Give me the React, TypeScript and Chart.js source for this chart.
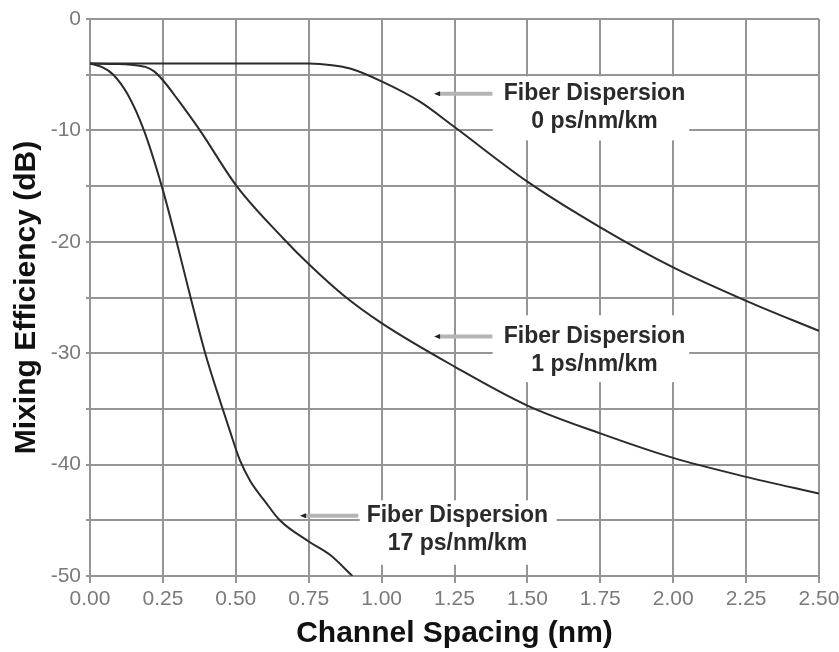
import React, { useEffect, useRef } from "react";
import { Chart, registerables } from "chart.js";

Chart.register(...registerables);

// Data
const xTicks = [0, 0.25, 0.5, 0.75, 1.0, 1.25, 1.5, 1.75, 2.0, 2.25, 2.5];
const yLabelTicks = [0, -10, -20, -30, -40, -50];

const x0ps = [0, 0.25, 0.5, 0.75, 0.83, 0.892, 1.0, 1.13, 1.25, 1.5, 1.75, 2.0, 2.25, 2.5];
const y0ps = [-4, -4, -4, -4.0, -4.15, -4.45, -5.6, -7.4, -9.7, -14.6, -18.7, -22.3, -25.3, -28.0];

const x1ps = [0, 0.1, 0.17, 0.19, 0.22, 0.25, 0.3, 0.377, 0.503, 0.663, 0.75, 0.869, 1.0, 1.25, 1.5, 1.75, 2.0, 2.25, 2.5];
const y1ps = [-4, -4.05, -4.2, -4.3, -4.7, -5.5, -7.2, -10.0, -15.0, -19.7, -22.0, -24.8, -27.3, -31.2, -34.7, -37.2, -39.4, -41.1, -42.6];

const x17ps = [0, 0.04, 0.08, 0.13, 0.185, 0.246, 0.297, 0.345, 0.395, 0.45, 0.48, 0.514, 0.55, 0.6, 0.651, 0.75, 0.823, 0.9];
const y17ps = [-4, -4.3, -5.0, -6.8, -10.0, -15.0, -20.0, -25.0, -30.0, -34.6, -37.0, -39.6, -41.5, -43.3, -45.0, -46.9, -48.1, -50.0];

const labelLine1 = ["Fiber Dispersion", "Fiber Dispersion", "Fiber Dispersion"];
const labelLine2 = ["0 ps/nm/km", "1 ps/nm/km", "17 ps/nm/km"];
// annotation anchor (data coords): text center x, line-1 y
const labelX = [1.73, 1.73, 1.26];
const labelY = [-6.7, -28.5, -44.6];
// arrow tip / tail (data coords)
const arrowTipX = [1.18, 1.18, 0.72];
const arrowTailX = [1.38, 1.38, 0.92];
// white box behind label (data coords)
const boxX1 = [1.381, 1.381, 0.925];
const boxX2 = [2.055, 2.055, 1.6];
const boxYTop = [-5.15, -26.6, -43.2];
const boxYBot = [-10.9, -32.6, -49.0];

const toPts = (xs: number[], ys: number[]) => xs.map((x, i) => ({ x, y: ys[i] }));

const annotationPlugin = {
  id: "annotations",
  beforeDatasetsDraw(chart: any) {
    const { ctx, scales } = chart;
    const xs = scales.x, ys = scales.y;
    ctx.save();
    ctx.fillStyle = "#ffffff";
    for (let i = 0; i < labelLine1.length; i++) {
      const l = xs.getPixelForValue(boxX1[i]);
      const r = xs.getPixelForValue(boxX2[i]);
      const t = ys.getPixelForValue(boxYTop[i]);
      const b = ys.getPixelForValue(boxYBot[i]);
      ctx.fillRect(l, t, r - l, b - t);
    }
    ctx.restore();
  },
  afterDatasetsDraw(chart: any) {
    const { ctx, scales } = chart;
    const xs = scales.x, ys = scales.y;
    ctx.save();
    for (let i = 0; i < labelLine1.length; i++) {
      const cx = xs.getPixelForValue(labelX[i]);
      const cy = ys.getPixelForValue(labelY[i]);
      ctx.font = 'bold 23px "Liberation Sans", Arial, sans-serif';
      ctx.fillStyle = "#2a2a2a";
      ctx.textAlign = "center";
      ctx.textBaseline = "middle";
      ctx.fillText(labelLine1[i], cx, cy);
      ctx.fillText(labelLine2[i], cx, cy + 28);
      // arrow
      const tip = xs.getPixelForValue(arrowTipX[i]);
      const tail = xs.getPixelForValue(arrowTailX[i]);
      const ay = ys.getPixelForValue(labelY[i]);
      ctx.strokeStyle = "#b4b4b4";
      ctx.lineWidth = 4;
      ctx.beginPath();
      ctx.moveTo(tip + 4, ay);
      ctx.lineTo(tail, ay);
      ctx.stroke();
      ctx.fillStyle = "#222";
      ctx.beginPath();
      ctx.moveTo(tip, ay);
      ctx.lineTo(tip + 6, ay - 2.5);
      ctx.lineTo(tip + 6, ay + 2.5);
      ctx.closePath();
      ctx.fill();
    }
    ctx.restore();
  },
};

export default function App() {
  const ref = useRef<HTMLCanvasElement | null>(null);
  useEffect(() => {
    if (!ref.current) return;
    const lineStyle = {
      borderColor: "#2b2b2b",
      borderWidth: 2,
      pointRadius: 0,
      fill: false,
      cubicInterpolationMode: "monotone" as const,
    };
    const chart = new Chart(ref.current, {
      type: "line",
      data: {
        datasets: [
          { label: "0 ps/nm/km", data: toPts(x0ps, y0ps), ...lineStyle },
          { label: "1 ps/nm/km", data: toPts(x1ps, y1ps), ...lineStyle },
          { label: "17 ps/nm/km", data: toPts(x17ps, y17ps), ...lineStyle },
        ],
      },
      options: {
        animation: false,
        responsive: false,
        layout: { padding: { left: 0, top: 19, right: 20, bottom: 0 } },
        plugins: { legend: { display: false }, tooltip: { enabled: false } },
        scales: {
          x: {
            type: "linear",
            min: 0,
            max: 2.5,
            afterBuildTicks: (scale: any) => {
              scale.ticks = xTicks.map((v) => ({ value: v }));
            },
            ticks: {
              callback: (v: any) => Number(v).toFixed(2),
              color: "#7a7a7a",
              font: { family: '"Liberation Sans", Arial, sans-serif', size: 21 },
              padding: 4,
              maxRotation: 0,
              autoSkip: false,
            },
            grid: { color: "#959595", lineWidth: 2, tickLength: 7 },
            border: { color: "#959595", width: 2 },
            title: {
              display: true,
              text: "Channel Spacing (nm)",
              color: "#111",
              font: { family: '"Liberation Sans", Arial, sans-serif', size: 30, weight: "bold" },
              padding: { top: 0, bottom: 0 },
            },
            afterFit: (scale: any) => {
              scale.height = 76;
              scale.paddingLeft = 0;
              scale.paddingRight = 0;
            },
          },
          y: {
            type: "linear",
            min: -50,
            max: 0,
            ticks: {
              stepSize: 5,
              callback: (v: any) => (yLabelTicks.includes(Number(v)) ? String(v) : ""),
              color: "#7a7a7a",
              font: { family: '"Liberation Sans", Arial, sans-serif', size: 21 },
              padding: 5,
              autoSkip: false,
            },
            grid: { color: "#959595", lineWidth: 2, tickLength: 4 },
            border: { color: "#959595", width: 2 },
            title: {
              display: true,
              text: "Mixing Efficiency (dB)",
              color: "#111",
              font: { family: '"Liberation Sans", Arial, sans-serif', size: 30, weight: "bold" },
              padding: { top: 9, bottom: 0 },
            },
            afterFit: (scale: any) => {
              scale.width = 90;
              scale.paddingTop = 0;
              scale.paddingBottom = 0;
            },
          },
        },
      },
      plugins: [annotationPlugin],
    });
    return () => chart.destroy();
  }, []);
  return (
    <div style={{ position: "absolute", left: 0, top: 0, width: 839, height: 652, background: "#fff" }}>
      <canvas ref={ref} width={839} height={652} style={{ display: "block" }} />
    </div>
  );
}
